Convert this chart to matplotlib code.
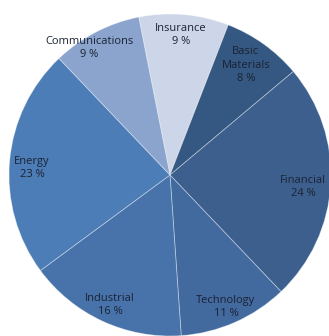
import matplotlib
matplotlib.use("Agg")
import matplotlib.pyplot as plt
import numpy as np

categories = ["Insurance", "Basic\nMaterials", "Financial", "Technology",
              "Industrial", "Energy", "Communications"]
values = [9, 8, 24, 11, 16, 23, 9]
colors = ["#cdd6e8", "#345882", "#3c5f8e", "#426a9f", "#4773aa", "#4c7db7", "#8aa4cd"]
label_r = [0.872, 0.83, 0.83, 0.89, 0.89, 0.858, 0.935]
label_dang = [0.5, 1.0, -2.0, -0.8, 0.0, 2.1, 5.1]

W, H = 329, 336
fig = plt.figure(figsize=(W / 100, H / 100), dpi=100)
cx, cy, R = 170, 175, 161
ax = fig.add_axes([(cx - R) / W, (H - cy - R) / H, 2 * R / W, 2 * R / H])

start = 101.2
wedges, _ = ax.pie(values, colors=colors, startangle=start, counterclock=False,
                   radius=1.0,
                   wedgeprops=dict(edgecolor=(1, 1, 1, 0.4), linewidth=0.6))
ax.set_xlim(-1, 1)
ax.set_ylim(-1, 1)
ax.set_aspect("equal")
ax.axis("off")

total = sum(values)
for w, lab, v, r, da in zip(wedges, categories, values, label_r, label_dang):
    mid = np.deg2rad((w.theta1 + w.theta2) / 2 + da)
    x, y = r * np.cos(mid), r * np.sin(mid)
    ax.text(x, y, f"{lab}\n{round(v / total * 100)} %", ha="center", va="center",
            fontsize=8.0, family="Open Sans", color="#1b2233", linespacing=1.32)

fig.savefig("out.png", dpi=100)
